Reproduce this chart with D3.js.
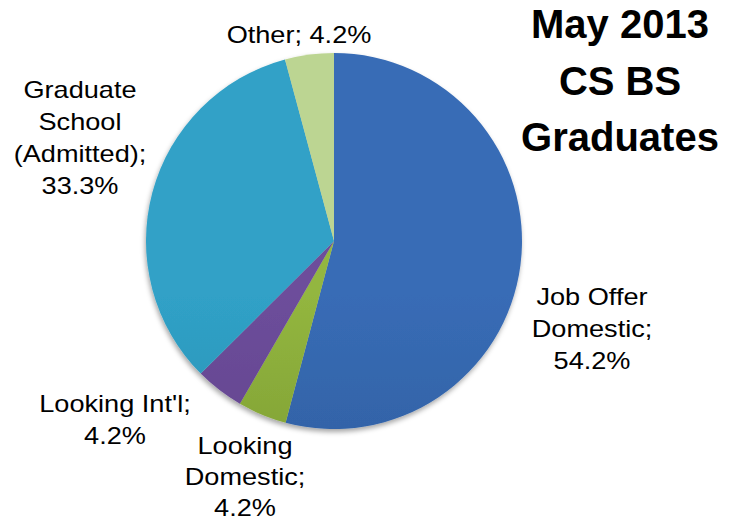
<!DOCTYPE html>
<html>
<head>
<meta charset="utf-8">
<script src="https://cdn.jsdelivr.net/npm/d3@7"></script>
<style>
  html, body { margin: 0; padding: 0; background: #fff; }
  svg { display: block; }
</style>
</head>
<body>
<svg id="chart" width="738" height="520"></svg>
<script>
// ---- data ----
const categories = ["Job Offer Domestic", "Looking Domestic", "Looking Int'l", "Graduate School (Admitted)", "Other"];
const values = [54.2, 4.2, 4.2, 33.3, 4.2];
const labelLines = [
  ["Job Offer", "Domestic;", "54.2%"],
  ["Looking", "Domestic;", "4.2%"],
  ["Looking Int'l;", "4.2%"],
  ["Graduate", "School", "(Admitted);", "33.3%"],
  ["Other; 4.2%"]
];
const titleLines = ["May 2013", "CS BS", "Graduates"];

// ---- styling / layout ----
const colorsTop = ["#386cb6", "#93b63f", "#6d4e9b", "#30a1c7", "#bcd592"];
const colorsBot = ["#2a5590", "#6c8a2a", "#573a80", "#2384a2", "#a6bb7e"];
// label anchor: x center and first-baseline y, relative to pie center
const labelPos = [
  {dx: 258, dy: 64},
  {dx: -89, dy: 213},
  {dx: -219, dy: 171},
  {dx: -254, dy: -143},
  {dx: -35, dy: -198}
];
const lineH = 32;
const stretchX = 1.18;

const svg = d3.select("#chart");
const cx = 334, cy = 241, r = 188;

const defs = svg.append("defs");
const filt = defs.append("filter").attr("id", "shadow")
  .attr("x", "-10%").attr("y", "-10%").attr("width", "120%").attr("height", "125%");
filt.append("feDropShadow").attr("dx", -1).attr("dy", 3).attr("stdDeviation", 2.5)
  .attr("flood-color", "#000").attr("flood-opacity", 0.35);

categories.forEach((c, i) => {
  const g = defs.append("linearGradient").attr("id", "grad" + i)
    .attr("gradientUnits", "userSpaceOnUse")
    .attr("x1", 0).attr("y1", cy - r).attr("x2", 0).attr("y2", cy + r);
  g.append("stop").attr("offset", "0%").attr("stop-color", colorsTop[i]);
  g.append("stop").attr("offset", "100%").attr("stop-color", colorsBot[i]);
});

const pie = d3.pie().sort(null).value(d => d)(values);
const arc = d3.arc().innerRadius(0).outerRadius(r);

const gPie = svg.append("g").attr("transform", `translate(${cx},${cy})`);
gPie.append("g").attr("filter", "url(#shadow)")
  .selectAll("path").data(pie).join("path")
  .attr("d", arc)
  .attr("fill", (d, i) => `url(#grad${i})`);

// labels
labelLines.forEach((lines, i) => {
  const t = svg.append("text")
    .attr("transform", `translate(${cx + labelPos[i].dx},${cy + labelPos[i].dy}) scale(${stretchX},1)`)
    .attr("text-anchor", "middle")
    .attr("font-family", "'Liberation Sans', Arial, sans-serif")
    .attr("font-size", 23)
    .attr("fill", "#000");
  lines.forEach((ln, j) => {
    t.append("tspan").attr("x", 0).attr("y", j * (i === 1 ? lineH - 1 : lineH)).text(ln);
  });
});

// title
const tt = svg.append("text")
  .attr("text-anchor", "middle")
  .attr("font-family", "'Liberation Sans', Arial, sans-serif")
  .attr("font-weight", "bold")
  .attr("font-size", 40)
  .attr("fill", "#000");
titleLines.forEach((ln, j) => {
  tt.append("tspan").attr("x", 620).attr("y", 38 + j * 56.5).text(ln);
});
</script>
</body>
</html>
